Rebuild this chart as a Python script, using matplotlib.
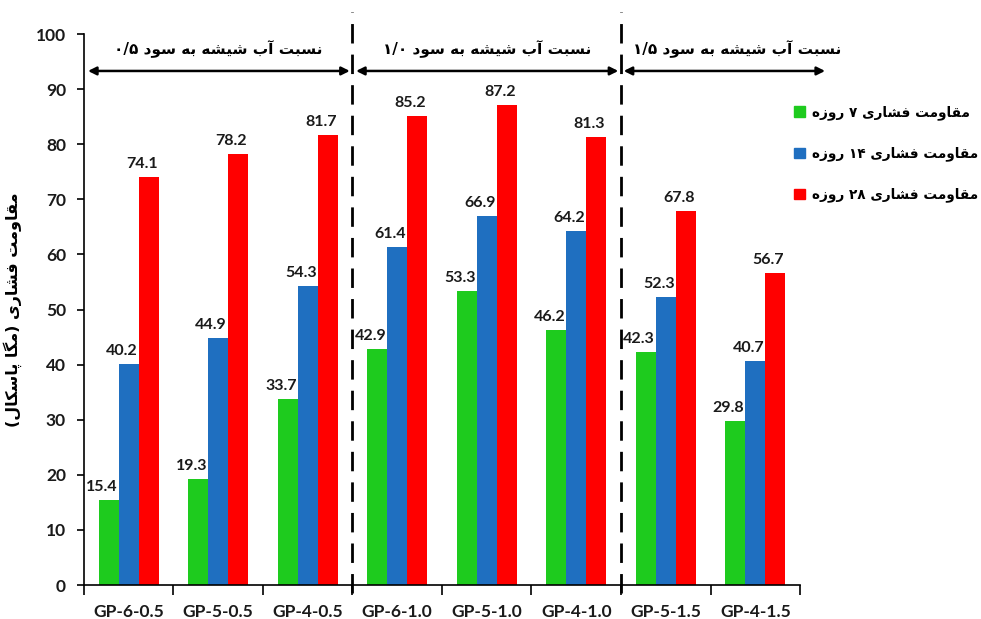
import re
import numpy as np
import matplotlib
matplotlib.use("Agg")
import matplotlib.pyplot as plt
from matplotlib.patches import Patch

# data
mixes = ["GP-6-0.5", "GP-5-0.5", "GP-4-0.5", "GP-6-1.0", "GP-5-1.0",
         "GP-4-1.0", "GP-5-1.5", "GP-4-1.5"]
day7 = [15.4, 19.3, 33.7, 42.9, 53.3, 46.2, 42.3, 29.8]
day14 = [40.2, 44.9, 54.3, 61.4, 66.9, 64.2, 52.3, 40.7]
day28 = [74.1, 78.2, 81.7, 85.2, 87.2, 81.3, 67.8, 56.7]
series_names = ["مقاومت فشاری ۷ روزه", "مقاومت فشاری ۱۴ روزه", "مقاومت فشاری ۲۸ روزه"]
ratio_labels = ["نسبت آب شیشه به سود ۰/۵", "نسبت آب شیشه به سود ۱/۰", "نسبت آب شیشه به سود ۱/۵"]
ylabel = "مقاومت فشاری (مگا پاسکال)"

colors = ["#1ecb1e", "#1f6fc0", "#ff0000"]

# matplotlib has no arabic shaping, so map letters to presentation forms
# (isolated, final, initial, medial)
FORMS = {
    "ا": ("\uFE8D", "\uFE8E", None, None),
    "آ": ("\uFE81", "\uFE82", None, None),
    "د": ("\uFEA9", "\uFEAA", None, None),
    "ر": ("\uFEAD", "\uFEAE", None, None),
    "ز": ("\uFEAF", "\uFEB0", None, None),
    "و": ("\uFEED", "\uFEEE", None, None),
    "ب": ("\uFE8F", "\uFE90", "\uFE91", "\uFE92"),
    "ت": ("\uFE95", "\uFE96", "\uFE97", "\uFE98"),
    "س": ("\uFEB1", "\uFEB2", "\uFEB3", "\uFEB4"),
    "ش": ("\uFEB5", "\uFEB6", "\uFEB7", "\uFEB8"),
    "ف": ("\uFED1", "\uFED2", "\uFED3", "\uFED4"),
    "ق": ("\uFED5", "\uFED6", "\uFED7", "\uFED8"),
    "ل": ("\uFEDD", "\uFEDE", "\uFEDF", "\uFEE0"),
    "م": ("\uFEE1", "\uFEE2", "\uFEE3", "\uFEE4"),
    "ن": ("\uFEE5", "\uFEE6", "\uFEE7", "\uFEE8"),
    "ه": ("\uFEE9", "\uFEEA", "\uFEEB", "\uFEEC"),
    "ی": ("\uFBFC", "\uFBFD", "\uFBFE", "\uFBFF"),
    "ک": ("\uFB8E", "\uFB8F", "\uFB90", "\uFB91"),
    "گ": ("\uFB92", "\uFB93", "\uFB94", "\uFB95"),
    "پ": ("\uFB56", "\uFB57", "\uFB58", "\uFB59"),
}
NUM = r"[۰-۹]+(?:/[۰-۹]+)?"


def fa(text):
    out = []
    for i, c in enumerate(text):
        if c not in FORMS:
            out.append(c)
            continue
        f = FORMS[c]
        prev = text[i - 1] if i > 0 else ""
        nxt = text[i + 1] if i < len(text) - 1 else ""
        jp = prev in FORMS and FORMS[prev][2] is not None
        jn = f[2] is not None and nxt in FORMS
        if jp and jn:
            out.append(f[3])
        elif jp:
            out.append(f[1])
        elif jn:
            out.append(f[2])
        else:
            out.append(f[0])
    s = "".join(out)
    vis = []
    for p in reversed(re.split("(" + NUM + ")", s)):
        if re.fullmatch(NUM, p):
            vis.append(p)
        else:
            vis.append(p[::-1].translate(str.maketrans("()", ")(")))
    return "".join(vis)


FA = ["DejaVu Sans"]
LAT = ["Lato", "DejaVu Sans"]

fig = plt.figure(figsize=(9.81, 6.19), dpi=100)
ax = fig.add_axes([0.0856, 0.0549, 0.7299, 0.8901])

x = np.arange(len(mixes))
w = 0.223
for k, (vals, c) in enumerate(zip([day7, day14, day28], colors)):
    pos = x + (k - 1) * w
    ax.bar(pos, vals, width=w, color=c, label=fa(series_names[k]))
    for xi, v in zip(pos, vals):
        ax.annotate(f"{v:.1f}", (xi, v), xytext=(-7, 6), textcoords="offset pixels",
                    ha="center", va="bottom", fontsize=11.5, fontweight="bold",
                    family=LAT, color="#1a1a1a")

ax.set_xlim(-0.5, len(mixes) - 0.5)
ax.set_ylim(0, 100)
ax.set_yticks(np.arange(0, 101, 10))
ax.set_xticks(x)
ax.set_xticklabels(mixes)
ax.set_xticks(np.arange(-0.5, len(mixes), 1), minor=True)
ax.tick_params(axis="x", which="major", length=0, pad=14)
ax.tick_params(axis="x", which="minor", length=7, width=1.2, direction="out")
ax.tick_params(axis="y", length=5, width=1.2, direction="out", pad=8)
for lab in ax.get_xticklabels() + ax.get_yticklabels():
    lab.set_fontsize(12.5)
    lab.set_fontweight("bold")
    lab.set_family(LAT)
    lab.set_color("#1a1a1a")
for s in ["top", "right"]:
    ax.spines[s].set_visible(False)
for s in ["left", "bottom"]:
    ax.spines[s].set_linewidth(1.2)

ax.set_ylabel(fa(ylabel), fontsize=11.5, fontweight="bold", family=FA, labelpad=10)

# group separators
for xs in [2.5, 5.5]:
    ax.plot([xs, xs], [-1.5, 104], color="black", lw=2, ls=(0, (7, 4)), clip_on=False)

# water glass ratio arrows
spans = [(-0.455, 2.47), (2.54, 5.47), (5.53, 7.78)]
text_x = [1.0, 4.0, 6.8]
for (a, b), tx, lab in zip(spans, text_x, ratio_labels):
    ax.annotate("", xy=(b, 93.3), xytext=(a, 93.3),
                arrowprops=dict(arrowstyle="<|-|>", color="black", lw=1.8,
                                mutation_scale=12, shrinkA=0, shrinkB=0),
                annotation_clip=False)
    ax.text(tx, 97.3, fa(lab), ha="center", va="center", fontsize=11,
            fontweight="bold", family=FA, clip_on=False)

handles = [Patch(color=c) for c in colors]
leg = ax.legend(handles, [fa(n) for n in series_names], loc="upper left",
                bbox_to_anchor=(0.975, 0.893), frameon=False, handlelength=0.8,
                handleheight=0.8, handletextpad=0.5, labelspacing=1.95,
                prop={"family": FA, "weight": "bold", "size": 9.8})

fig.savefig("out.png", dpi=100)
